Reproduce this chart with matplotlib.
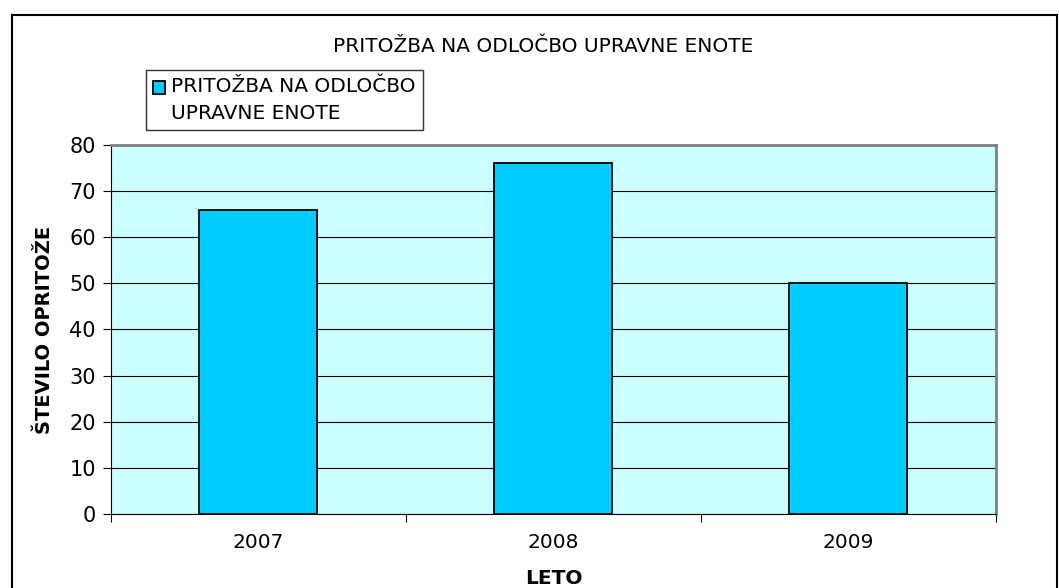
import matplotlib.pyplot as plt
from matplotlib.patches import Rectangle
from matplotlib.container import BarContainer
from matplotlib.legend_handler import HandlerPatch

# data
years = ['2007', '2008', '2009']
counts = [66, 76, 50]
series_name = 'PRITOŽBA NA ODLOČBO\nUPRAVNE ENOTE'

plt.rcParams['font.family'] = ['DejaVu Sans']

fig = plt.figure(figsize=(10.59, 5.88), dpi=100)
ax = fig.add_axes([0.1048, 0.1259, 0.8357, 0.6276])
ax.set_facecolor('#CCFFFF')

x = range(len(years))
bars = ax.bar(x, counts, width=0.4, color='#00CCFF', edgecolor='black',
              linewidth=1.3, zorder=3, label=series_name)

ax.set_xlim(-0.5, 2.5)
ax.set_ylim(0, 80)
ax.set_yticks(range(0, 81, 10))
ax.yaxis.grid(True, color='black', linewidth=0.8, zorder=1)

# category labels centred, ticks between categories
ax.set_xticks([-0.5, 0.5, 1.5, 2.5])
ax.set_xticklabels([])
ax.set_xticks(list(x), minor=True)
ax.set_xticklabels(years, minor=True)
ax.tick_params(axis='x', which='minor', length=0, pad=14, labelsize=14.5)
ax.tick_params(axis='x', which='major', direction='out', length=6)
ax.tick_params(axis='y', direction='out', length=6, labelsize=15, pad=5)

for s in ['top', 'right']:
    ax.spines[s].set_color('#808080')
    ax.spines[s].set_linewidth(2)
ax.spines['left'].set_color('black')
ax.spines['bottom'].set_color('black')

ax.set_ylabel('ŠTEVILO OPRITOŽE', fontsize=14, fontweight='bold', labelpad=11)
fig.text(0.523, 1 - 579 / 588, 'LETO', ha='center', va='center',
         fontsize=14.5, fontweight='bold')

fig.text(0.513, 1 - 47 / 588, 'PRITOŽBA NA ODLOČBO UPRAVNE ENOTE', ha='center',
         va='center', fontsize=14.5)


# legend square sits beside the first line of the label
def top_square(legend, orig_handle, xdescent, ydescent, width, height, fontsize):
    shift = 0.65 * fontsize
    return Rectangle((-xdescent, -ydescent + shift), width, height)


leg = fig.legend(loc='upper left', bbox_to_anchor=(146 / 1059, 1 - 70 / 588),
                 fontsize=14.5, frameon=True, fancybox=False, edgecolor='black',
                 handlelength=0.6, handleheight=0.6, handletextpad=0.3,
                 borderpad=0.35, borderaxespad=0,
                 handler_map={BarContainer: HandlerPatch(
                     patch_func=top_square,
                     update_func=lambda h, o: h.update_from(o.patches[0]))})
leg.get_frame().set_linewidth(1)
for t in leg.get_texts():
    t.set_linespacing(1.5)

# frame around the whole chart
fig.patches.append(Rectangle((12 / 1059, -0.01), 1045 / 1059, 1 - 15 / 588 + 0.01,
                             transform=fig.transFigure, fill=False,
                             edgecolor='black', linewidth=1.5))

fig.savefig('out.png', dpi=100)
